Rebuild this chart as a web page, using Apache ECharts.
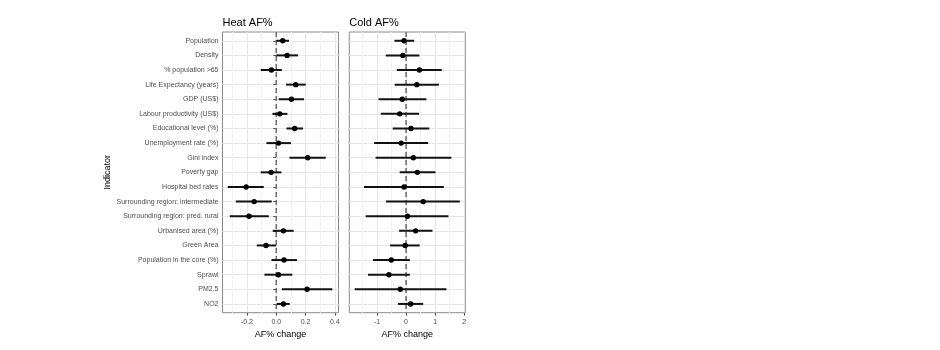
<!DOCTYPE html>
<html>
<head>
<meta charset="utf-8">
<script src="https://cdn.jsdelivr.net/npm/echarts@6/dist/echarts.min.js"></script>
<style>
  html, body { margin: 0; padding: 0; background: #fff; }
  #chart { width: 940px; height: 350px; }
</style>
</head>
<body>
<div id="chart"></div>
<script>
// Indicators, top to bottom
const indicators = [
  'Population', 'Density', '% population >65', 'Life Expectancy (years)', 'GDP (US$)',
  'Labour productivity (US$)', 'Educational level (%)', 'Unemployment rate (%)', 'Gini index',
  'Poverty gap', 'Hospital bed rates', 'Surrounding region: intermediate',
  'Surrounding region: pred. rural', 'Urbanised area (%)', 'Green Area',
  'Population in the core (%)', 'Sprawl', 'PM2.5', 'NO2'
];

// Heat AF% change: estimate and 95% interval
const heatEst  = [0.044, 0.074, -0.033, 0.133, 0.104, 0.024, 0.126, 0.015, 0.215, -0.035, -0.206, -0.151, -0.186, 0.049, -0.070, 0.053, 0.015, 0.210, 0.049];
const heatLow  = [0.001, 0.000, -0.106, 0.067, 0.017, -0.026, 0.070, -0.067, 0.090, -0.106, -0.331, -0.276, -0.317, -0.024, -0.133, -0.033, -0.081, 0.038, 0.003];
const heatHigh = [0.087, 0.149, 0.038, 0.201, 0.190, 0.076, 0.183, 0.101, 0.338, 0.035, -0.085, -0.031, -0.051, 0.119, -0.003, 0.142, 0.110, 0.383, 0.092];

// Cold AF% change: estimate and 95% interval
const coldEst  = [-0.07, -0.11, 0.46, 0.37, -0.13, -0.22, 0.17, -0.17, 0.25, 0.39, -0.07, 0.59, 0.05, 0.33, -0.03, -0.51, -0.59, -0.20, 0.16];
const coldLow  = [-0.40, -0.70, -0.32, -0.39, -0.95, -0.87, -0.46, -1.10, -1.05, -0.22, -1.45, -0.69, -1.39, -0.24, -0.55, -1.14, -1.31, -1.77, -0.28];
const coldHigh = [0.28, 0.46, 1.23, 1.13, 0.70, 0.45, 0.80, 0.76, 1.56, 1.01, 1.30, 1.85, 1.46, 0.91, 0.47, 0.13, 0.13, 1.39, 0.59];

// Axis ticks
const heatTicks = [-0.2, 0, 0.2, 0.4];
const heatTickLabels = ['-0.2', '0.0', '0.2', '0.4'];
const heatMinor = [-0.3, -0.1, 0.1, 0.3];
const coldTicks = [-1, 0, 1, 2];
const coldTickLabels = ['-1', '0', '1', '2'];
const coldMinor = [-1.5, -0.5, 0.5, 1.5];
const heatRange = [-0.367, 0.425];
const coldRange = [-1.955, 2.04];

const rowIdx = indicators.map((_, i) => i);
const FONT = 'Liberation Sans, Arial, sans-serif';

function rows(est, lo, hi) {
  return rowIdx.map(i => [est[i], i, lo[i], hi[i]]);
}

function renderInterval(params, api) {
  const y = api.value(1);
  const a = api.coord([api.value(2), y]);
  const b = api.coord([api.value(3), y]);
  const c = api.coord([api.value(0), y]);
  return {
    type: 'group',
    children: [
      { type: 'line', shape: { x1: a[0], y1: a[1], x2: b[0], y2: b[1] },
        style: { stroke: '#111', lineWidth: 2 } },
      { type: 'circle', shape: { cx: c[0], cy: c[1], r: 2.7 },
        style: { fill: '#000' } }
    ]
  };
}

function mainX(gridIndex, range, ticks, labels) {
  return {
    type: 'value', gridIndex, min: range[0], max: range[1], position: 'bottom',
    axisLine: { show: false },
    axisTick: { show: true, length: 3, customValues: ticks, lineStyle: { color: '#555', width: 1 } },
    axisLabel: { customValues: ticks, color: '#4d4d4d', fontSize: 7, fontFamily: FONT, margin: 5.5,
      formatter: v => labels[ticks.findIndex(t => Math.abs(t - v) < 1e-9)] },
    splitLine: { show: true, lineStyle: { color: '#e6e6e6', width: 1 } },
    name: 'AF% change', nameLocation: 'middle', nameGap: 13.5,
    nameTextStyle: { color: '#000', fontSize: 9, fontFamily: FONT, verticalAlign: 'top' }
  };
}

function minorX(gridIndex, range, minor) {
  return {
    type: 'value', gridIndex, min: range[0], max: range[1], position: 'bottom',
    axisLine: { show: false }, axisTick: { show: false, customValues: minor },
    axisLabel: { show: false, customValues: minor },
    splitLine: { show: true, lineStyle: { color: '#f3f3f3', width: 1 } }
  };
}

function yAx(gridIndex, showLabels) {
  return {
    type: 'value', gridIndex, inverse: true, min: -0.6, max: 18.6,
    axisLine: { show: false },
    axisTick: { show: showLabels, length: 3, customValues: rowIdx, lineStyle: { color: '#555', width: 1 } },
    axisLabel: { show: showLabels, customValues: rowIdx, color: '#4d4d4d', fontSize: 7, fontFamily: FONT, margin: 4,
      formatter: v => indicators[Math.round(v)] },
    splitLine: { show: true, lineStyle: { color: '#e6e6e6', width: 1 } },
    name: showLabels ? 'Indicator' : '', nameLocation: 'middle', nameGap: 110, nameRotate: 90,
    nameTextStyle: { color: '#000', fontSize: 9, fontFamily: FONT }
  };
}

function zeroLine(xAxisIndex, yAxisIndex) {
  return {
    type: 'line', xAxisIndex, yAxisIndex, silent: true, symbol: 'none', z: 1,
    data: [[0, -0.6], [0, 18.6]],
    lineStyle: { color: '#707070', width: 1.6, type: [5, 3] }
  };
}

const chart = echarts.init(document.getElementById('chart'), null, { renderer: 'canvas' });
chart.setOption({
  animation: false,
  backgroundColor: '#fff',
  title: [
    { text: 'Heat AF%', left: 222.5, top: 17, padding: 0, textStyle: { fontSize: 11, fontWeight: 'normal', color: '#000', fontFamily: FONT } },
    { text: 'Cold AF%', left: 349.3, top: 17, padding: 0, textStyle: { fontSize: 11, fontWeight: 'normal', color: '#000', fontFamily: FONT } }
  ],
  grid: [
    { left: 222.5, top: 32, width: 116, height: 280.7, show: true, borderColor: '#8a8a8a', borderWidth: 1, backgroundColor: 'transparent' },
    { left: 349.3, top: 32, width: 116, height: 280.7, show: true, borderColor: '#8a8a8a', borderWidth: 1, backgroundColor: 'transparent' }
  ],
  xAxis: [
    minorX(0, heatRange, heatMinor),
    mainX(0, heatRange, heatTicks, heatTickLabels),
    minorX(1, coldRange, coldMinor),
    mainX(1, coldRange, coldTicks, coldTickLabels)
  ],
  yAxis: [yAx(0, true), yAx(1, false)],
  series: [
    zeroLine(1, 0),
    zeroLine(3, 1),
    { type: 'custom', xAxisIndex: 1, yAxisIndex: 0, z: 3, renderItem: renderInterval,
      encode: { x: [0, 2, 3], y: 1 }, data: rows(heatEst, heatLow, heatHigh) },
    { type: 'custom', xAxisIndex: 3, yAxisIndex: 1, z: 3, renderItem: renderInterval,
      encode: { x: [0, 2, 3], y: 1 }, data: rows(coldEst, coldLow, coldHigh) }
  ]
});
</script>
</body>
</html>
